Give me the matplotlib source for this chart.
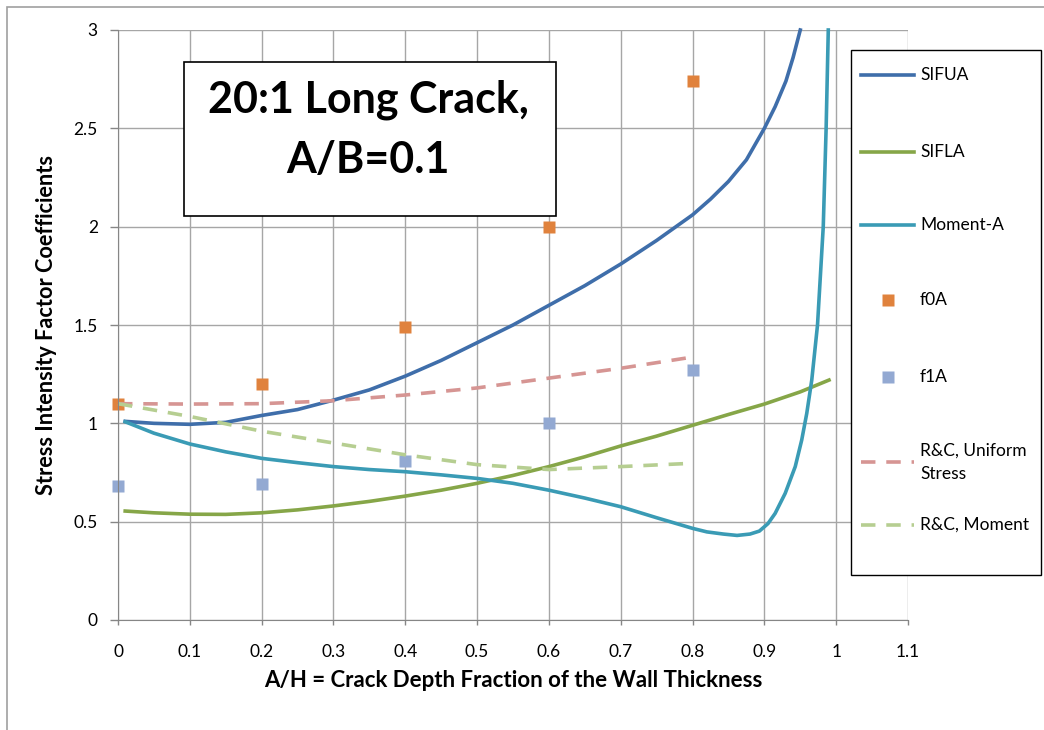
import numpy as np
import matplotlib.pyplot as plt
from matplotlib.patches import Rectangle
from matplotlib.lines import Line2D

plt.rcParams['font.family'] = ['Lato', 'DejaVu Sans']

# curve data
sifua_x = [0.01, 0.05, 0.1, 0.15, 0.2, 0.25, 0.3, 0.35, 0.4, 0.45, 0.5, 0.55, 0.6,
           0.65, 0.7, 0.75, 0.8, 0.825, 0.85, 0.875, 0.9, 0.915, 0.93, 0.94, 0.95]
sifua_y = [1.01, 1.0, 0.995, 1.005, 1.04, 1.07, 1.118, 1.17, 1.24, 1.32, 1.41, 1.5, 1.6,
           1.7, 1.81, 1.93, 2.06, 2.14, 2.23, 2.34, 2.5, 2.61, 2.74, 2.86, 3.0]

sifla_x = [0.01, 0.05, 0.1, 0.15, 0.2, 0.25, 0.3, 0.35, 0.4, 0.45, 0.5, 0.55, 0.6,
           0.65, 0.7, 0.75, 0.8, 0.85, 0.9, 0.95, 0.99]
sifla_y = [0.554, 0.545, 0.538, 0.537, 0.545, 0.56, 0.58, 0.603, 0.63, 0.66, 0.695, 0.735, 0.78,
           0.83, 0.885, 0.935, 0.99, 1.045, 1.098, 1.16, 1.22]

moment_x = [0.01, 0.05, 0.1, 0.15, 0.2, 0.25, 0.3, 0.35, 0.4, 0.45, 0.5, 0.55, 0.6,
            0.65, 0.7, 0.75, 0.8, 0.82, 0.843, 0.862, 0.88, 0.893, 0.905, 0.915, 0.929, 0.943,
            0.952, 0.959, 0.966, 0.974, 0.982, 0.986, 0.989]
moment_y = [1.008, 0.95, 0.895, 0.855, 0.822, 0.8, 0.78, 0.765, 0.754, 0.738, 0.72, 0.695, 0.66,
            0.62, 0.576, 0.52, 0.466, 0.448, 0.437, 0.43, 0.437, 0.452, 0.49, 0.542, 0.644, 0.78,
            0.915, 1.05, 1.22, 1.5, 2.0, 2.5, 3.0]

rc_x = [0.0, 0.1, 0.2, 0.3, 0.4, 0.5, 0.6, 0.7, 0.8]
rc_uniform = [1.1, 1.098, 1.1, 1.115, 1.144, 1.18, 1.23, 1.28, 1.337]
rc_moment = [1.1, 1.035, 0.96, 0.9, 0.84, 0.79, 0.765, 0.78, 0.797]

pts_x = [0.0, 0.2, 0.4, 0.6, 0.8]
f0a = [1.1, 1.2, 1.49, 2.0, 2.74]
f1a = [0.68, 0.69, 0.81, 1.0, 1.27]

W, H = 1044, 730
fig = plt.figure(figsize=(W / 100, H / 100), dpi=100)
ax = fig.add_axes([118 / W, (H - 620) / H, 790 / W, 590 / H])

lw = 2.6
dash = (4, 3)
styles = [
    ('SIFUA', dict(color='#3F6EAA', lw=lw)),
    ('SIFLA', dict(color='#86A648', lw=lw)),
    ('Moment-A', dict(color='#3A9BB5', lw=lw)),
    ('f0A', dict(color='#E0823D', ls='none', marker='s', ms=8, mec='none')),
    ('f1A', dict(color='#93A9D2', ls='none', marker='s', ms=8, mec='none')),
    ('R&C, Uniform\nStress', dict(color='#D69593', lw=lw, ls='--', dashes=dash)),
    ('R&C, Moment', dict(color='#B6CE91', lw=lw, ls='--', dashes=dash)),
]
series = [(sifua_x, sifua_y), (sifla_x, sifla_y), (moment_x, moment_y),
          (pts_x, f0a), (pts_x, f1a), (rc_x, rc_uniform), (rc_x, rc_moment)]
for (lab, st), (xs, ys) in zip(styles, series):
    ax.plot(xs, ys, clip_on=False, **st)

ax.set_xlim(0, 1.1)
ax.set_ylim(0, 3)
ax.set_xticks(np.arange(0, 1.11, 0.1))
ax.set_xticklabels(['0', '0.1', '0.2', '0.3', '0.4', '0.5', '0.6', '0.7', '0.8', '0.9', '1', '1.1'])
ax.set_yticks([0, 0.5, 1, 1.5, 2, 2.5, 3])
ax.set_yticklabels(['0', '0.5', '1', '1.5', '2', '2.5', '3'])
ax.grid(True, color='#A6A6A6', lw=1.0)
ax.set_axisbelow(True)
for s in ['top', 'right']:
    ax.spines[s].set_visible(False)
for s in ['left', 'bottom']:
    ax.spines[s].set_color('#868686')
ax.tick_params(axis='both', colors='#868686', width=1, labelsize=12.5, labelcolor='black')
ax.tick_params(axis='x', length=3.6, pad=14)
ax.tick_params(axis='y', length=5.5, pad=9)

ax.set_xlabel('A/H = Crack Depth Fraction of the Wall Thickness', fontsize=16,
              fontweight='bold', labelpad=7)
ax.set_ylabel('Stress Intensity Factor Coefficients', fontsize=15.7,
              fontweight='bold', labelpad=12)

# title box
ax.add_patch(Rectangle((184 / W, (H - 216) / H), 372 / W, 154 / H, transform=fig.transFigure,
                       fc='white', ec='black', lw=1.2, zorder=5, clip_on=False))
fig.text(368 / W, (H - 100) / H, '20:1 Long Crack,', ha='center', va='center',
         fontsize=31, fontweight='bold', zorder=6)
fig.text(368 / W, (H - 160) / H, 'A/B=0.1', ha='center', va='center',
         fontsize=31, fontweight='bold', zorder=6)

# legend box, drawn by hand to match the spacing of the original
ax.add_patch(Rectangle((851 / W, (H - 575) / H), 190 / W, 525 / H, transform=fig.transFigure,
                       fc='white', ec='black', lw=1.0, zorder=5, clip_on=False))
leg_y = [75, 152, 225, 300, 377, 462, 525]
for (lab, st), yy in zip(styles, leg_y):
    fy = (H - yy) / H
    if st.get('marker'):
        fig.add_artist(Line2D([888 / W], [fy], **st))
    else:
        fig.add_artist(Line2D([861 / W, 914 / W], [fy, fy], **st))
    fig.text(920 / W, fy, lab, ha='left', va='center', fontsize=12.5, linespacing=1.55)

# outer chart border
fig.add_artist(Rectangle((7 / W, -0.1), 1.2, (H - 7) / H + 0.1,
                         transform=fig.transFigure, fill=False, ec='#A0A0A0', lw=1.2))

fig.savefig('out.png', dpi=100)
